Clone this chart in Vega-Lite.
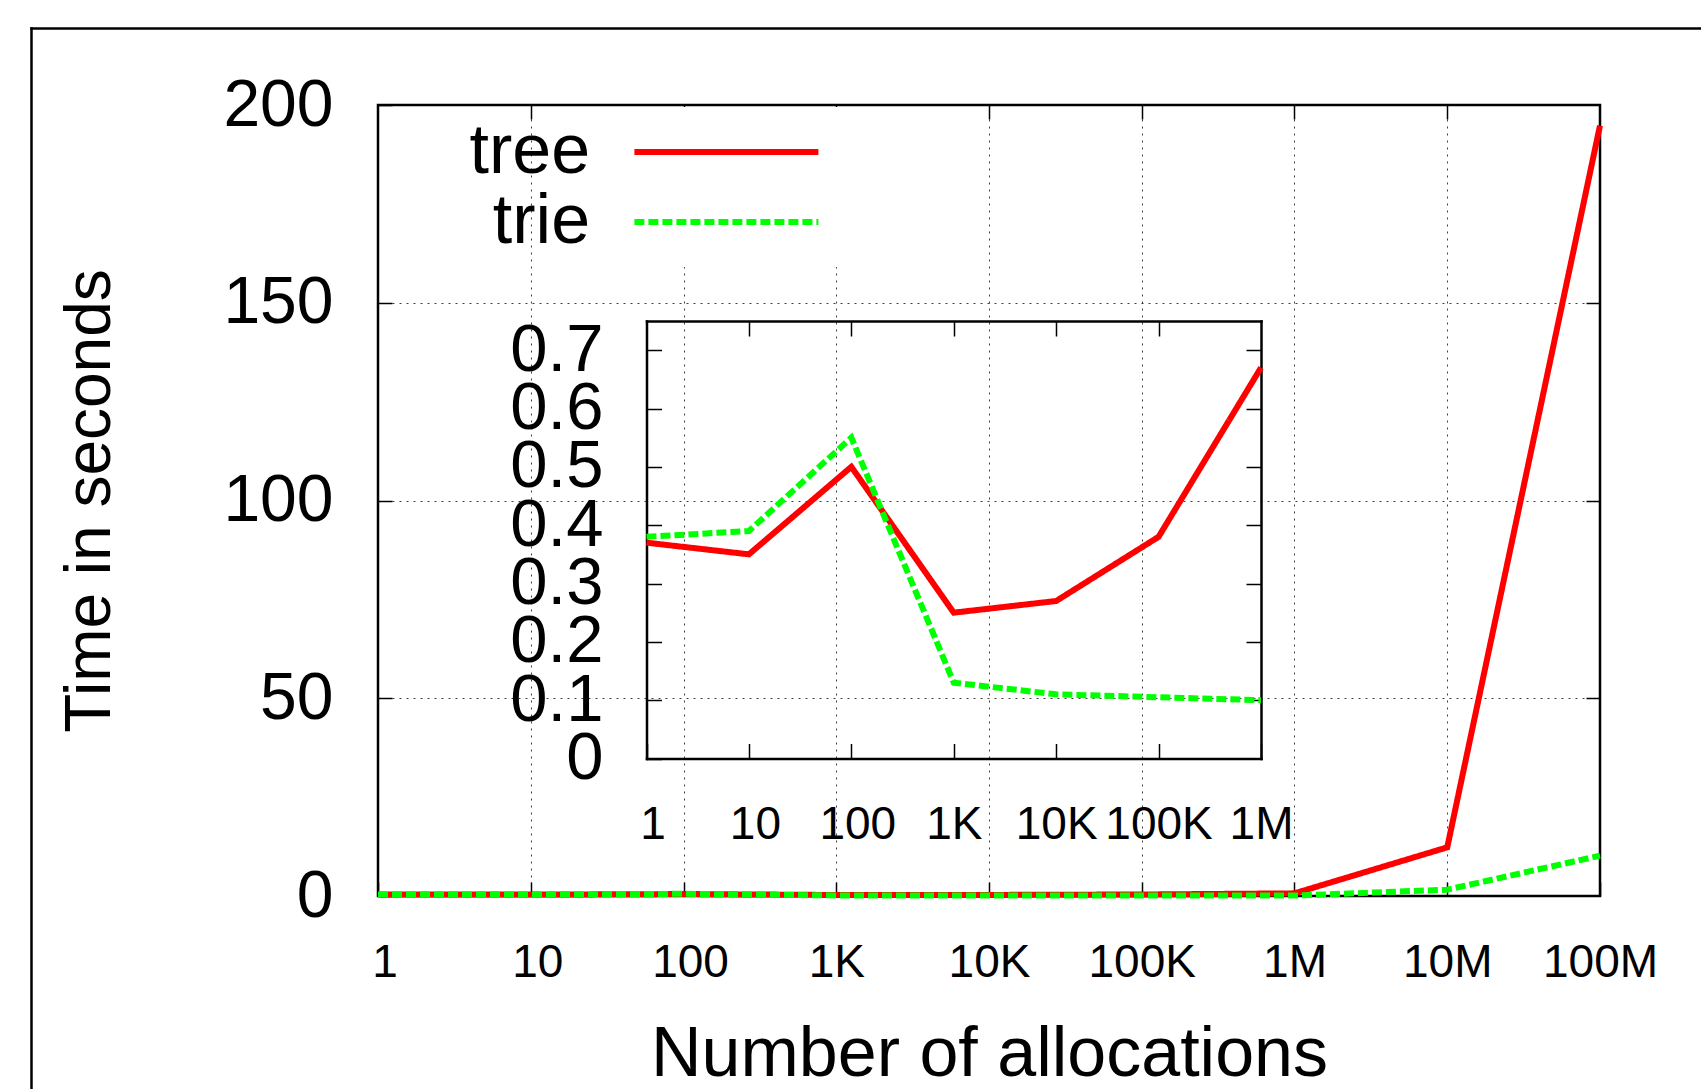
{
  "$schema": "https://vega.github.io/schema/vega-lite/v6.json",
  "width": 1222,
  "height": 791,
  "autosize": {"type": "none"},
  "padding": {"left": 378, "top": 105, "right": 101, "bottom": 193},
  "background": "white",
  "config": {
    "font": "Liberation Sans",
    "view": {"stroke": "black", "strokeWidth": 2.5},
    "legend": {"fillColor": "white"},
    "axis": {
      "labelFont": "Liberation Sans",
      "titleFont": "Liberation Sans",
      "labelColor": "black",
      "titleColor": "black",
      "tickColor": "black",
      "domainColor": "black",
      "titleFontWeight": "normal",
      "labelOverlap": false,
      "labelBound": false,
      "labelFlush": false,
      "gridColor": "black",
      "gridDash": [2, 5],
      "gridWidth": 1,
      "gridOpacity": 0.75,
      "tickWidth": 1.5,
      "domainCap": "square"
    }
  },
  "data": {
    "values": [
      {"n": 1, "t": 0.37, "series": "tree"},
      {"n": 10, "t": 0.35, "series": "tree"},
      {"n": 100, "t": 0.50, "series": "tree"},
      {"n": 1000, "t": 0.25, "series": "tree"},
      {"n": 10000, "t": 0.27, "series": "tree"},
      {"n": 100000, "t": 0.38, "series": "tree"},
      {"n": 1000000, "t": 0.67, "series": "tree"},
      {"n": 10000000, "t": 12.3, "series": "tree"},
      {"n": 100000000, "t": 194.8, "series": "tree"},
      {"n": 1, "t": 0.38, "series": "trie"},
      {"n": 10, "t": 0.39, "series": "trie"},
      {"n": 100, "t": 0.55, "series": "trie"},
      {"n": 1000, "t": 0.13, "series": "trie"},
      {"n": 10000, "t": 0.11, "series": "trie"},
      {"n": 100000, "t": 0.105, "series": "trie"},
      {"n": 1000000, "t": 0.10, "series": "trie"},
      {"n": 10000000, "t": 1.6, "series": "trie"},
      {"n": 100000000, "t": 10.2, "series": "trie"}
    ]
  },
  "layer": [
    {
      "mark": {"type": "line", "strokeWidth": 6, "strokeJoin": "miter"},
      "encoding": {
        "x": {
          "field": "n", "type": "quantitative",
          "scale": {"type": "log", "domain": [1, 100000000], "nice": false},
          "axis": {
            "orient": "bottom",
            "values": [1, 10, 100, 1000, 10000, 100000, 1000000, 10000000, 100000000],
            "labelExpr": "datum.value >= 1000000 ? format(datum.value / 1000000, 'd') + 'M' : (datum.value >= 1000 ? format(datum.value / 1000, 'd') + 'K' : format(datum.value, 'd'))",
            "labelFontSize": 46,
            "labelBaseline": "alphabetic",
            "labelOffset": {"condition": {"test": "datum.value < 1000", "value": 6.5}, "value": 0},
            "tickSize": -14,
            "labelPadding": 94,
            "domain": false,
            "grid": true,
            "title": "Number of allocations",
            "titleFontSize": 70,
            "titlePadding": 35
          }
        },
        "y": {
          "field": "t", "type": "quantitative",
          "scale": {"domain": [0, 200], "nice": false},
          "axis": {
            "orient": "left",
            "values": [0, 50, 100, 150, 200],
            "labelFontSize": 66,
            "tickSize": -14,
            "labelPadding": 59,
            "domain": false,
            "grid": true,
            "title": "Time in seconds",
            "titleFontSize": 64,
            "titlePadding": 100
          }
        },
        "color": {
          "field": "series", "type": "nominal",
          "scale": {"domain": ["tree", "trie"], "range": ["#ff0000", "#00ff00"]},
          "legend": {
            "orient": "none", "legendX": 234.4, "legendY": 2, "title": null,
            "symbolType": "M-4,0H4", "symbolSize": 2116, "symbolStrokeWidth": 6, "symbolOffset": 69,
            "rowPadding": -20, "padding": 10,
            "labelFontSize": 70, "labelFont": "Liberation Sans", "labelColor": "black",
            "labelAlign": "right", "labelBaseline": "middle", "labelOffset": -171.3, "labelLimit": 400,
            "fillColor": "white"
          }
        },
        "strokeDash": {
          "field": "series", "type": "nominal",
          "scale": {"domain": ["tree", "trie"], "range": [[1, 0], [10, 4]]},
          "legend": {
            "orient": "none", "legendX": 234.4, "legendY": 2, "title": null,
            "symbolType": "M-4,0H4", "symbolSize": 2116, "symbolStrokeWidth": 6, "symbolOffset": 69,
            "rowPadding": -20, "padding": 10,
            "labelFontSize": 70, "labelFont": "Liberation Sans", "labelColor": "black",
            "labelAlign": "right", "labelBaseline": "middle", "labelOffset": -171.3, "labelLimit": 400,
            "fillColor": "white"
          }
        }
      }
    },
    {
      "mark": {"type": "point", "opacity": 0},
      "encoding": {
        "x": {
          "field": "n", "type": "quantitative",
          "scale": {"type": "log", "domain": [1, 100000000], "nice": false},
          "axis": {
            "orient": "top",
            "values": [10, 100, 1000, 10000, 100000, 1000000, 10000000],
            "labels": false, "tickSize": -14, "domain": false, "grid": false, "title": null
          }
        },
        "y": {
          "field": "t", "type": "quantitative",
          "scale": {"domain": [0, 200], "nice": false},
          "axis": {
            "orient": "right",
            "values": [50, 100, 150],
            "labels": false, "tickSize": -14, "domain": false, "grid": false, "title": null
          }
        }
      }
    },
    {
      "transform": [{"filter": "datum.n <= 1000000"}],
      "mark": {"type": "line", "strokeWidth": 6, "strokeJoin": "miter"},
      "encoding": {
        "x": {
          "field": "n", "type": "quantitative",
          "scale": {"type": "log", "domain": [1, 1000000], "nice": false, "range": [268.5, 883]},
          "axis": {
            "orient": "bottom", "offset": -137.5,
            "values": [1, 10, 100, 1000, 10000, 100000, 1000000],
            "labelExpr": "datum.value >= 1000000 ? format(datum.value / 1000000, 'd') + 'M' : (datum.value >= 1000 ? format(datum.value / 1000, 'd') + 'K' : format(datum.value, 'd'))",
            "labelFontSize": 46,
            "labelBaseline": "alphabetic",
            "labelOffset": {"condition": {"test": "datum.value < 1000", "value": 6}, "value": 0},
            "tickSize": -15,
            "labelPadding": 95,
            "domain": true, "domainWidth": 2.5,
            "grid": false, "title": null
          }
        },
        "y": {
          "field": "t", "type": "quantitative",
          "scale": {"domain": [0, 0.75], "nice": false, "range": [653.5, 216]},
          "axis": {
            "orient": "left", "offset": -268.5,
            "values": [0, 0.1, 0.2, 0.3, 0.4, 0.5, 0.6, 0.7],
            "labelExpr": "datum.value == 0 ? '0' : format(datum.value, '.1f')",
            "labelFontSize": 67,
            "tickSize": -15,
            "labelPadding": 58.5,
            "domain": true, "domainWidth": 2.5,
            "grid": false, "title": null
          }
        },
        "color": {
          "field": "series", "type": "nominal",
          "scale": {"domain": ["tree", "trie"], "range": ["#ff0000", "#00ff00"]},
          "legend": {
            "orient": "none", "legendX": 234.4, "legendY": 2, "title": null,
            "symbolType": "M-4,0H4", "symbolSize": 2116, "symbolStrokeWidth": 6, "symbolOffset": 69,
            "rowPadding": -20, "padding": 10,
            "labelFontSize": 70, "labelFont": "Liberation Sans", "labelColor": "black",
            "labelAlign": "right", "labelBaseline": "middle", "labelOffset": -171.3, "labelLimit": 400,
            "fillColor": "white"
          }
        },
        "strokeDash": {
          "field": "series", "type": "nominal",
          "scale": {"domain": ["tree", "trie"], "range": [[1, 0], [10, 4]]},
          "legend": {
            "orient": "none", "legendX": 234.4, "legendY": 2, "title": null,
            "symbolType": "M-4,0H4", "symbolSize": 2116, "symbolStrokeWidth": 6, "symbolOffset": 69,
            "rowPadding": -20, "padding": 10,
            "labelFontSize": 70, "labelFont": "Liberation Sans", "labelColor": "black",
            "labelAlign": "right", "labelBaseline": "middle", "labelOffset": -171.3, "labelLimit": 400,
            "fillColor": "white"
          }
        }
      }
    },
    {
      "transform": [{"filter": "datum.n <= 1000000"}],
      "mark": {"type": "point", "opacity": 0},
      "encoding": {
        "x": {
          "field": "n", "type": "quantitative",
          "scale": {"type": "log", "domain": [1, 1000000], "nice": false, "range": [268.5, 883]},
          "axis": {
            "orient": "top", "offset": -216,
            "values": [10, 100, 1000, 10000, 100000],
            "labels": false, "tickSize": -15,
            "domain": true, "domainWidth": 2.5, "grid": false, "title": null
          }
        },
        "y": {
          "field": "t", "type": "quantitative",
          "scale": {"domain": [0, 0.75], "nice": false, "range": [653.5, 216]},
          "axis": {
            "orient": "right", "offset": -339,
            "values": [0.1, 0.2, 0.3, 0.4, 0.5, 0.6, 0.7],
            "labels": false, "tickSize": -15,
            "domain": true, "domainWidth": 2.5, "grid": false, "title": null
          }
        }
      }
    },
    {
      "mark": {"type": "point", "opacity": 0},
      "encoding": {
        "x": {
          "field": "n", "type": "quantitative",
          "scale": {"type": "log", "domain": [1, 100000000], "nice": false, "range": [-347, 1345]},
          "axis": {
            "orient": "top", "offset": 77,
            "ticks": false, "labels": false,
            "domain": true, "domainWidth": 2.5, "grid": false, "title": null
          }
        },
        "y": {
          "field": "t", "type": "quantitative",
          "scale": {"domain": [0, 200], "nice": false, "range": [1010, -77]},
          "axis": {
            "orient": "left", "offset": 347,
            "ticks": false, "labels": false,
            "domain": true, "domainWidth": 2.5, "grid": false, "title": null
          }
        }
      }
    }
  ],
  "resolve": {
    "scale": {"x": "independent", "y": "independent"},
    "axis": {"x": "independent", "y": "independent"}
  }
}
